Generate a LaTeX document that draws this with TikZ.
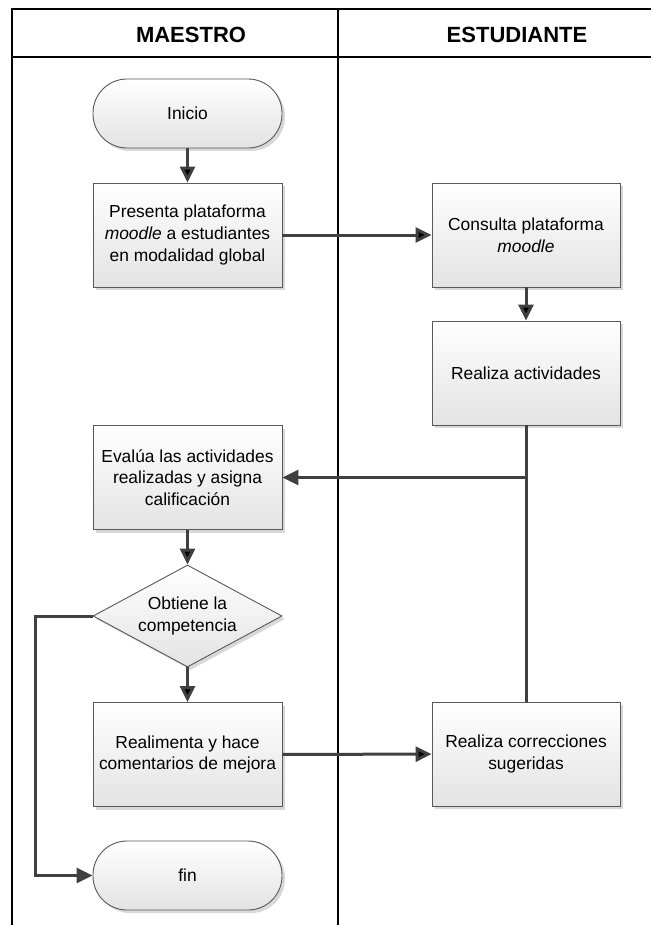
\documentclass[tikz,border=0pt]{standalone}
\usepackage{fontspec}
\setmainfont{Liberation Sans}
\usetikzlibrary{arrows.meta}
\usetikzlibrary{shapes.geometric}
\usetikzlibrary{shadows}

\tikzset{
  proceso/.style={rectangle, draw=black!65, line width=0.9pt,
    minimum width=189pt, minimum height=104pt, inner sep=0pt, align=center,
    top color=white, bottom color=black!11,
    drop shadow={shadow xshift=3pt, shadow yshift=-3pt, fill=black!30, opacity=0.5},
    font=\fontsize{17.4}{21.7}\selectfont},
  terminal/.style={proceso, rounded corners=34pt, minimum height=69pt},
  decision/.style={proceso, diamond, aspect=1.85, minimum height=102pt},
  flecha/.style={-{Triangle[length=16pt,width=15pt]}, draw=black!75, line width=3pt},
  linea/.style={draw=black!75, line width=3pt},
  carril/.style={draw=black, line width=1.3pt},
  titulo/.style={font=\fontsize{22}{26}\selectfont\bfseries}
}

\begin{document}
\begin{tikzpicture}[x=1pt,y=-1pt]
    \useasboundingbox (0,0) rectangle (651,925);

    % carriles
    \draw[carril] (12,925) -- (12,9) -- (651,9);
    \draw[carril] (12,57) -- (651,57);
    \draw[carril] (338,9) -- (338,925);
    \node[titulo] (maestro) at (191,35) {MAESTRO};
    \node[titulo] (estudiante) at (517,35) {ESTUDIANTE};

    % maestro
    \node[terminal] (inicio) at (187.5,113.5) {Inicio};
    \node[proceso] (presenta) at (187.5,235) {Presenta plataforma\\\textit{moodle} a estudiantes\\en modalidad global};
    \node[proceso] (evalua) at (187.5,477.5) {Evalúa las actividades\\realizadas y asigna\\calificación};
    \node[decision] (decide) at (187.5,616) {Obtiene la\\competencia};
    \node[proceso] (realimenta) at (187.5,754.5) {Realimenta y hace\\comentarios de mejora};
    \node[terminal] (fin) at (187.5,875.5) {fin};

    % estudiante
    \node[proceso, minimum width=188pt] (consulta) at (526,235) {Consulta plataforma\\\textit{moodle}};
    \node[proceso, minimum width=188pt] (realiza) at (526,373) {Realiza actividades};
    \node[proceso, minimum width=188pt] (correcciones) at (526,754) {Realiza correcciones\\sugeridas};

     \path [flecha] (inicio) edge (presenta);
     \path [flecha] (presenta) edge (consulta);
     \path [flecha] (consulta) edge (realiza);
     \path [flecha] (evalua) edge (decide);
     \path [flecha] (decide) edge (realimenta);
     \path [flecha] (realimenta) edge (correcciones);
     \draw [linea] (correcciones.north) -- (realiza.south);
     \draw [flecha] (realiza.south) |- (evalua.east);
     \draw [flecha] (decide.west) -- ++(-57,0) |- (fin.west);
\end{tikzpicture}
\end{document}
